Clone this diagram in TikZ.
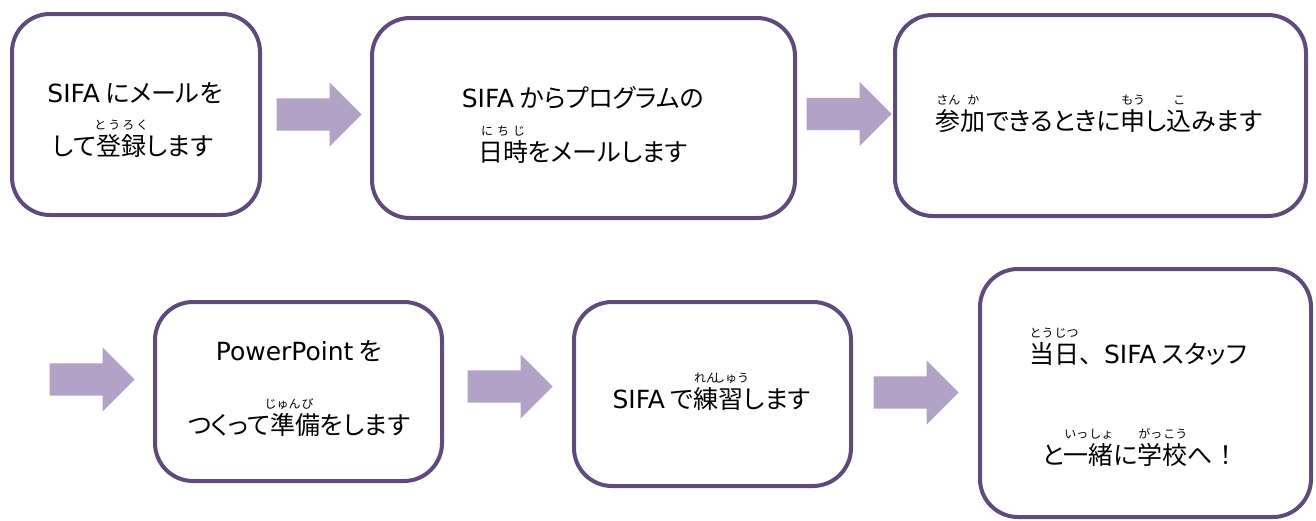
\documentclass[tikz,border=0pt]{standalone}
\usepackage{fontspec}
\setmainfont{Noto Sans CJK JP}[RawFeature=+palt]
\newfontfamily\latf{DejaVu Sans}
\newfontfamily\rubyf{Noto Sans CJK JP}
\newcommand{\fw}[1]{{\rubyf #1}}
\usetikzlibrary{shapes.arrows}
\definecolor{boxc}{RGB}{96,74,123}
\definecolor{arrc}{RGB}{179,162,199}
\newcommand{\rb}[2]{\setbox0=\hbox{#1}\hbox to \wd0{\hss\smash{\raisebox{1.05em}{\hbox to 0pt{\hss{\rubyf\fontsize{12}{12}\selectfont #2}\hss}}}\hss}\kern-\wd0\box0}
\tikzset{
  box/.style={draw=boxc, line width=4pt, rounded corners=38pt, fill=white, inner sep=0pt},
  arr/.style={single arrow, fill=arrc, draw=none, minimum height=85pt,
    single arrow head extend=16pt, single arrow head indent=0pt, inner sep=0pt, anchor=tip},
  txt/.style={font=\fontsize{25}{30}\selectfont, inner sep=0pt, anchor=center}
}
\newcommand{\shaft}{\rule{0pt}{32pt}}
\begin{document}
\begin{tikzpicture}[x=1pt,y=-1pt]
\useasboundingbox (0,0) rectangle (1316,520);
% boxes
\node[box, minimum width=248pt, minimum height=201pt] (b1) at (136,114.5) {};
\node[box, minimum width=423pt, minimum height=200pt] (b2) at (583.5,118) {};
\node[box, minimum width=411pt, minimum height=201pt] (b3) at (1100.5,115.5) {};
\node[box, minimum width=287pt, minimum height=179pt] (b4) at (298.5,391.5) {};
\node[box, minimum width=277pt, minimum height=184pt] (b5) at (712.5,394) {};
\node[box, minimum width=331pt, minimum height=248pt] (b6) at (1145.5,393) {};
% arrows
\node[arr] (a1) at (362,114.5) {\shaft};
\node[arr] (a2) at (892,114) {\shaft};
\node[arr] (a3) at (135,379.5) {\shaft};
\node[arr] (a4) at (553,386.5) {\shaft};
\node[arr] (a5) at (959,392.5) {\shaft};
% texts
\node[txt] (t1a) at (135,93) {{\latf SIFA} にメールを};
\node[txt] (t1b) at (133,146) {して\rb{登録}{と\,う\,ろ\,く}します};
\node[txt] (t2a) at (583,98) {{\latf SIFA} からプログラムの};
\node[txt] (t2b) at (583,152) {\rb{日時}{に\,\,ち\,\,じ}をメールします};
\node[txt] (t3) at (1099,121) {\rb{参}{さん}\rb{加}{か}できるときに\rb{申}{もう}し\rb{込}{こ}みます};
\node[txt] (t4a) at (299,351) {{\latf PowerPoint} を};
\node[txt] (t4b) at (299,425) {つくって\rb{準}{じゅん}\rb{備}{び}をします};
\node[txt] (t5) at (711.5,399) {{\latf SIFA} で\rb{練}{れん}\rb{習}{しゅう}します};
\node[txt] (t6a) at (1138,354) {\rb{当}{とう}\rb{日}{じつ}\fw{、}{\latf SIFA} スタッフ};
\node[txt] (t6b) at (1140,455) {と\rb{一}{いっ}\rb{緒}{しょ}に\rb{学}{がっ}\rb{校}{こう}へ\fw{！}};
\end{tikzpicture}
\end{document}
